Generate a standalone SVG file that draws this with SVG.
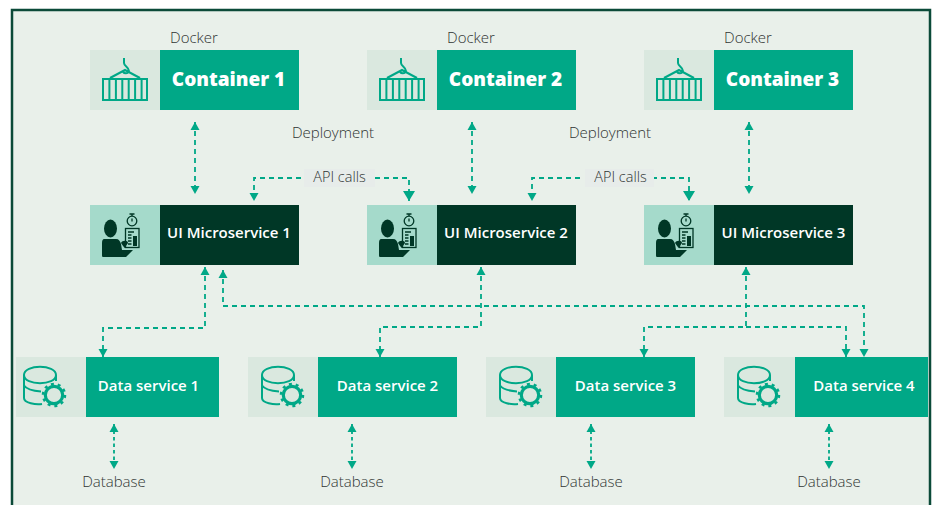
<svg xmlns="http://www.w3.org/2000/svg" width="935" height="505" viewBox="0 0 935 505">
<style>
.lbl{font-family:"Open Sans","Noto Sans",sans-serif;font-size:15px;font-weight:300;fill:#2f3432;text-anchor:middle}
.big{font-family:"Open Sans","Noto Sans",sans-serif;font-size:19px;font-weight:800;fill:#fff;text-anchor:middle}
.mid{font-family:"Open Sans","Noto Sans",sans-serif;font-size:15px;font-weight:600;fill:#fff;text-anchor:middle}
.pale{fill:#dae8df}.mint{fill:#a5dacb}.green{fill:#00a887}.dark{fill:#003726}
.c{fill:none;stroke:#00a887;stroke-width:1.800;stroke-dasharray:5 4}
.s{fill:none;stroke:#00a887;stroke-width:1.800;stroke-dasharray:3.500 3}
.ic{fill:none;stroke:#00a887;stroke-width:2}
.id{fill:none;stroke:#003726;stroke-width:1.300}
</style>
<defs>
<marker id="a" markerUnits="userSpaceOnUse" markerWidth="9" markerHeight="10" refX="8" refY="5" orient="auto-start-reverse"><path d="M0 0.500L8 5L0 9.500Z" fill="#00a887"/></marker>
<marker id="b" markerUnits="userSpaceOnUse" markerWidth="11" markerHeight="12" refX="10" refY="6" orient="auto"><path d="M0 0L10 6L0 12Z" fill="#00a887"/></marker>
<g id="icoC">
<path class="ic" d="M124 58V63C124 66 129 67 129 71C128 74 124 74 122 71M110 78L125 70L140 78"/>
<path class="ic" d="M103 79H147V100H103Z"/>
<path class="ic" d="M109.400 79V100M115.900 79V100M122.300 79V100M128.700 79V100M135.100 79V100M141.600 79V100"/>
</g>
<g id="icoU">
<ellipse class="dark" cx="110.500" cy="228.500" rx="6.500" ry="9"/>
<path class="dark" d="M104 239H116C119 239 120 241 121 244L122 250H133L126 257H103C102 257 102 256 102 255V243C102 240 103 239 104 239Z"/>
<path class="dark" d="M121 243C122 240 128 240 128 243L124.500 248Z"/>
<rect class="id" x="125.500" y="228.500" width="13.500" height="19"/>
<path class="id" d="M128 232H134M128 235H131.500M128 238H131.500M128 241H131.500M128 244H131.500"/>
<path class="dark" d="M133 236H137V246H133Z"/>
<circle class="id" cx="132" cy="221" r="4.800"/>
<path class="id" d="M132 214.500V216M129.500 214H134.500M132 218.500V221.500"/>
</g>
<g id="icoD">
<path class="ic" d="M24 375C24 364 56 364 56 375C56 386 24 386 24 375ZM24 375V398C24 403 36 405 42 404M24 385.500C27 390 34 391 41 391.500M56 375V381"/>
<circle cx="54" cy="395" r="8.700" fill="#dae8df" stroke="#00a887" stroke-width="3.200"/>
<circle cx="54" cy="395" r="11" fill="none" stroke="#00a887" stroke-width="2.500" stroke-dasharray="3 3.910"/>
</g>
</defs>
<rect width="935" height="505" fill="#fff"/>
<rect x="12" y="10" width="918" height="510" fill="#e9f0ea" stroke="#0b4a38" stroke-width="2.500"/>
<g id="connectors">
<path class="c" d="M195 122V194" marker-start="url(#a)" marker-end="url(#a)"/>
<path class="c" d="M472 122V194" marker-start="url(#a)" marker-end="url(#a)"/>
<path class="c" d="M749 122V194" marker-start="url(#a)" marker-end="url(#a)"/>
<path class="c" d="M301 178H254V201" marker-end="url(#a)"/>
<path class="c" d="M375 178H409V201" marker-end="url(#b)"/>
<path class="c" d="M580 178H532V201" marker-end="url(#a)"/>
<path class="c" d="M652 178H689V201" marker-end="url(#b)"/>
<path class="c" d="M205 267V328H103V357" marker-start="url(#a)" marker-end="url(#a)"/>
<path class="c" d="M223 270V306H864V357" marker-start="url(#a)" marker-end="url(#a)"/>
<path class="c" d="M481 267V327H380V357" marker-start="url(#a)" marker-end="url(#a)"/>
<path class="c" d="M746 267V327H644V357" marker-start="url(#a)" marker-end="url(#a)"/>
<path class="c" d="M746 327H846V357" marker-end="url(#a)"/>
<path class="s" d="M114 424V469" marker-start="url(#a)" marker-end="url(#a)"/>
<path class="s" d="M352 424V469" marker-start="url(#a)" marker-end="url(#a)"/>
<path class="s" d="M591 424V469" marker-start="url(#a)" marker-end="url(#a)"/>
<path class="s" d="M829 424V469" marker-start="url(#a)" marker-end="url(#a)"/>
</g>
<g id="container1"><rect class="pale" x="90" y="50" width="70" height="60"/><rect class="green" x="160" y="50" width="139" height="60"/><use href="#icoC"/><text class="big" x="228.500" y="86">Container 1</text><text class="lbl" x="194" y="43">Docker</text></g>
<g id="container2"><rect class="pale" x="367" y="50" width="70" height="60"/><rect class="green" x="437" y="50" width="139" height="60"/><use href="#icoC" x="277"/><text class="big" x="505.500" y="86">Container 2</text><text class="lbl" x="471" y="43">Docker</text></g>
<g id="container3"><rect class="pale" x="644" y="50" width="70" height="60"/><rect class="green" x="714" y="50" width="139" height="60"/><use href="#icoC" x="554"/><text class="big" x="782.500" y="86">Container 3</text><text class="lbl" x="748" y="43">Docker</text></g>
<g id="ui1"><rect class="mint" x="90" y="205" width="70" height="60"/><rect class="dark" x="160" y="205" width="139" height="60"/><use href="#icoU"/><text class="mid" x="229" y="238">UI Microservice 1</text></g>
<g id="ui2"><rect class="mint" x="367" y="205" width="70" height="60"/><rect class="dark" x="437" y="205" width="139" height="60"/><use href="#icoU" x="277"/><text class="mid" x="506" y="238">UI Microservice 2</text></g>
<g id="ui3"><rect class="mint" x="644" y="205" width="70" height="60"/><rect class="dark" x="714" y="205" width="139" height="60"/><use href="#icoU" x="554"/><text class="mid" x="783.500" y="238">UI Microservice 3</text></g>
<g id="data1"><rect class="pale" x="16" y="357" width="70" height="60"/><rect class="green" x="86" y="357" width="133" height="60"/><use href="#icoD"/><text class="mid" x="148.500" y="391">Data service 1</text><text class="lbl" x="114" y="487">Database</text></g>
<g id="data2"><rect class="pale" x="248" y="357" width="70" height="60"/><rect class="green" x="318" y="357" width="139" height="60"/><use href="#icoD" x="238"/><text class="mid" x="387.500" y="391">Data service 2</text><text class="lbl" x="352" y="487">Database</text></g>
<g id="data3"><rect class="pale" x="486" y="357" width="70" height="60"/><rect class="green" x="556" y="357" width="139" height="60"/><use href="#icoD" x="476"/><text class="mid" x="625.500" y="391">Data service 3</text><text class="lbl" x="591" y="487">Database</text></g>
<g id="data4"><rect class="pale" x="724" y="357" width="71" height="60"/><rect class="green" x="795" y="357" width="133" height="60"/><use href="#icoD" x="714"/><text class="mid" x="864" y="391">Data service 4</text><text class="lbl" x="829" y="487">Database</text></g>
<g id="labels">
<text class="lbl" x="333" y="138">Deployment</text>
<text class="lbl" x="610" y="138">Deployment</text>
<rect x="304" y="169" width="71" height="18" fill="#e7ecea"/>
<rect x="585" y="169" width="69" height="18" fill="#e7ecea"/>
<text class="lbl" x="339.500" y="182" style="font-size:14.500px">API calls</text>
<text class="lbl" x="620.500" y="182" style="font-size:14.500px">API calls</text>
</g>
</svg>
